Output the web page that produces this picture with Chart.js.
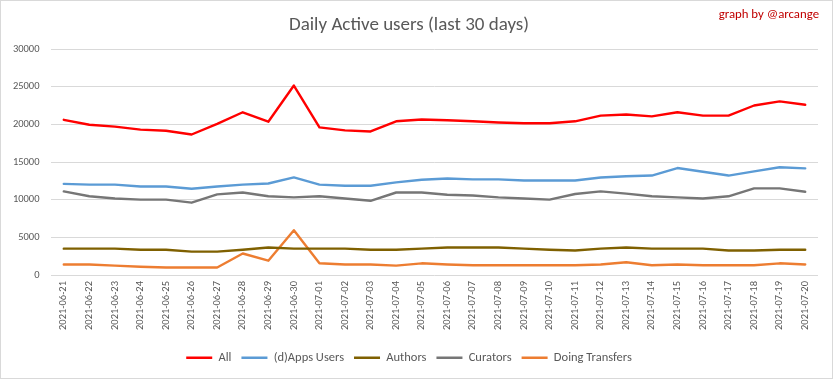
<!DOCTYPE html>
<html>
<head>
<meta charset="utf-8">
<script src="https://cdn.jsdelivr.net/npm/chart.js@4/dist/chart.umd.min.js"></script>
<style>
  html, body { margin: 0; padding: 0; background: #ffffff; }
  canvas { display: block; }
</style>
</head>
<body>
<canvas id="c" width="833" height="379"></canvas>
<script>
const dates = ["2021-06-21","2021-06-22","2021-06-23","2021-06-24","2021-06-25","2021-06-26","2021-06-27","2021-06-28","2021-06-29","2021-06-30",
  "2021-07-01","2021-07-02","2021-07-03","2021-07-04","2021-07-05","2021-07-06","2021-07-07","2021-07-08","2021-07-09","2021-07-10",
  "2021-07-11","2021-07-12","2021-07-13","2021-07-14","2021-07-15","2021-07-16","2021-07-17","2021-07-18","2021-07-19","2021-07-20"];

const allUsers = [20600, 19950, 19700, 19300, 19150, 18650, 20050, 21600, 20350, 25150,
  19600, 19200, 19050, 20400, 20650, 20550, 20400, 20250, 20150, 20150,
  20400, 21150, 21300, 21050, 21600, 21150, 21150, 22500, 23050, 22600];

const appsUsers = [12100, 12000, 12000, 11750, 11750, 11450, 11750, 12000, 12150, 12950,
  12000, 11850, 11850, 12300, 12650, 12800, 12700, 12700, 12550, 12550,
  12550, 12950, 13100, 13200, 14200, 13700, 13200, 13750, 14300, 14150];

const authors = [3500, 3500, 3500, 3350, 3350, 3100, 3100, 3350, 3650, 3500,
  3500, 3500, 3350, 3350, 3500, 3650, 3650, 3650, 3500, 3350,
  3250, 3500, 3650, 3500, 3500, 3500, 3250, 3250, 3350, 3350];

const curators = [11100, 10450, 10150, 10000, 10000, 9600, 10700, 10950, 10450, 10300,
  10450, 10150, 9850, 10950, 10950, 10650, 10550, 10300, 10150, 10000,
  10750, 11100, 10800, 10450, 10300, 10150, 10450, 11500, 11500, 11050];

const transfers = [1400, 1400, 1250, 1100, 1000, 1000, 1000, 2850, 1900, 5950,
  1550, 1400, 1400, 1250, 1550, 1400, 1300, 1300, 1300, 1300,
  1300, 1400, 1700, 1300, 1400, 1300, 1300, 1300, 1550, 1400];

const yTickValues = [0, 5000, 10000, 15000, 20000, 25000, 30000];

const seriesNames = ["All", "(d)Apps Users", "Authors", "Curators", "Doing Transfers"];
const seriesColors = ["#ff0000", "#5b9bd5", "#7f6000", "#767676", "#ed7d31"];
const seriesData = [allUsers, appsUsers, authors, curators, transfers];

const titleText = "Daily Active users (last 30 days)";
const creditText = "graph by @arcange";

const FONT = "Carlito, Calibri, Lato, sans-serif";

const frameAndCredit = {
  id: 'frameAndCredit',
  beforeDraw(chart) {
    const ctx = chart.ctx;
    ctx.save();
    ctx.fillStyle = '#ffffff';
    ctx.fillRect(0, 0, chart.width, chart.height);
    ctx.restore();
  },
  afterDraw(chart) {
    const ctx = chart.ctx;
    ctx.save();
    ctx.strokeStyle = '#d9d9d9';
    ctx.lineWidth = 1;
    ctx.strokeRect(0.5, 0.5, chart.width - 1, chart.height - 1);
    ctx.fillStyle = '#c00000';
    ctx.font = '12.8px ' + FONT;
    ctx.textAlign = 'right';
    ctx.textBaseline = 'middle';
    ctx.fillText(creditText, 819, 15);
    ctx.restore();
  }
};

new Chart(document.getElementById('c'), {
  type: 'line',
  data: {
    labels: dates,
    datasets: seriesNames.map((n, i) => ({
      label: n,
      data: seriesData[i],
      borderColor: seriesColors[i],
      backgroundColor: seriesColors[i],
      borderWidth: 2.4,
      pointRadius: 0,
      pointHoverRadius: 0,
      tension: 0,
      fill: false,
      borderJoinStyle: 'round',
      borderCapStyle: 'round'
    }))
  },
  options: {
    responsive: false,
    devicePixelRatio: 1,
    animation: false,
    layout: { padding: { left: 0, right: 15, top: 0, bottom: 5 } },
    plugins: {
      tooltip: { enabled: false },
      title: {
        display: true,
        text: titleText,
        color: '#595959',
        font: { family: FONT, size: 19, weight: 'normal' },
        padding: { top: 13.6, bottom: 12.6 }
      },
      legend: {
        position: 'bottom',
        labels: {
          boxWidth: 26,
          boxHeight: 2.5,
          padding: 10,
          color: '#595959',
          font: { family: FONT, size: 12.5 },
          generateLabels(chart) {
            const items = Chart.defaults.plugins.legend.labels.generateLabels(chart);
            items.forEach(it => { it.lineWidth = 0; it.fillStyle = it.strokeStyle; });
            return items;
          }
        }
      }
    },
    scales: {
      x: {
        offset: true,
        grid: { display: false, drawTicks: false },
        border: { display: false },
        ticks: {
          autoSkip: false,
          minRotation: 90,
          maxRotation: 90,
          padding: 6,
          color: '#595959',
          font: { family: FONT, size: 10.5 }
        },
        afterFit(scale) { scale.height = 66.5; }
      },
      y: {
        min: yTickValues[0],
        max: yTickValues[yTickValues.length - 1],
        grid: { color: '#d9d9d9', lineWidth: 1, drawTicks: false },
        border: { display: false },
        afterBuildTicks(scale) { scale.ticks = yTickValues.map(v => ({ value: v })); },
        ticks: {
          padding: 11.5,
          color: '#595959',
          font: { family: FONT, size: 10.5 },
          callback: (v) => String(v)
        },
        afterFit(scale) { scale.width = 51; }
      }
    }
  },
  plugins: [frameAndCredit]
});
</script>
</body>
</html>
